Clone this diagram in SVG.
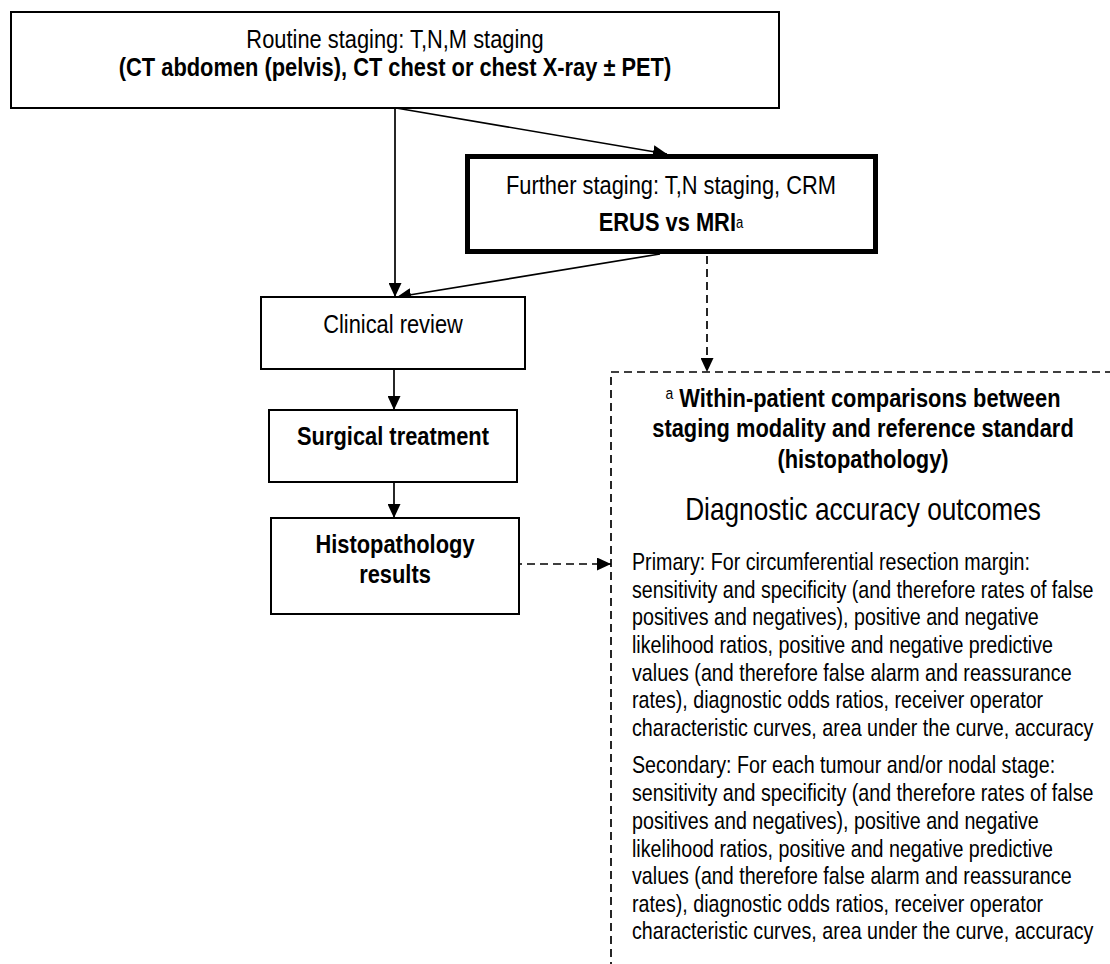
<svg xmlns="http://www.w3.org/2000/svg" width="1110" height="964" viewBox="0 0 1110 964">
<style>
text{font-family:"Liberation Sans",Arial,sans-serif;fill:#000}
.box{fill:#fff;stroke:#000;stroke-width:2}
.thick{fill:#fff;stroke:#000;stroke-width:5}
.t{font-size:26.67px}
.b{font-weight:bold}
.body{font-size:24px}
.c{text-anchor:middle}
.conn{stroke:#000;stroke-width:1.7;fill:none}
.dash{stroke-dasharray:8 5}
</style>
<defs>
<marker id="ah" markerWidth="14" markerHeight="13" refX="14" refY="6.5" orient="auto" markerUnits="userSpaceOnUse">
<path d="M0,0 L14,6.5 L0,13 z" fill="#000"/>
</marker>
</defs>
<rect width="1110" height="964" fill="#fff"/>
<g id="connectors">
<line class="conn" x1="395" y1="108" x2="395" y2="297" marker-end="url(#ah)"/>
<line class="conn" x1="396" y1="108" x2="667" y2="154" marker-end="url(#ah)"/>
<line class="conn" x1="660" y1="254" x2="397" y2="297" marker-end="url(#ah)"/>
<line class="conn" x1="394" y1="369" x2="394" y2="410" marker-end="url(#ah)"/>
<line class="conn" x1="394" y1="482" x2="394" y2="518" marker-end="url(#ah)"/>
<line class="conn dash" x1="707" y1="256" x2="707" y2="372" marker-end="url(#ah)"/>
<line class="conn dash" x1="514" y1="564" x2="611" y2="564" marker-end="url(#ah)"/>
</g>
<g id="routine">
<rect class="box" x="11" y="12" width="768" height="96"/>
<text class="t c" transform="matrix(0.82 0 0 1 395 0)" x="0" y="48">Routine staging: T,N,M staging</text>
<text class="t b c" transform="matrix(0.82 0 0 1 395 0)" x="0" y="76">(CT abdomen (pelvis), CT chest or chest X-ray ± PET)</text>
</g>
<g id="further">
<rect class="thick" x="467.5" y="156.5" width="408" height="95"/>
<text class="t c" transform="matrix(0.82 0 0 1 671 0)" x="0" y="194">Further staging: T,N staging, CRM</text>
<text class="t b c" transform="matrix(0.82 0 0 1 671 0)" x="0" y="231">ERUS vs MRI<tspan font-size="16" font-weight="normal" dy="-3">a</tspan></text>
</g>
<g id="clinical">
<rect class="box" x="261" y="297" width="264" height="72"/>
<text class="t c" transform="matrix(0.82 0 0 1 393 0)" x="0" y="333">Clinical review</text>
</g>
<g id="surgical">
<rect class="box" x="269" y="410" width="248" height="72"/>
<text class="t b c" transform="matrix(0.82 0 0 1 393 0)" x="0" y="445">Surgical treatment</text>
</g>
<g id="histo">
<rect class="box" x="271" y="518" width="248" height="96"/>
<text class="t b c" transform="matrix(0.82 0 0 1 395 0)" x="0" y="553">Histopathology</text>
<text class="t b c" transform="matrix(0.82 0 0 1 395 0)" x="0" y="583">results</text>
</g>
<g id="outcomes">
<path class="conn dash" d="M611,970 V372 H1115"/>
<text class="t b c" transform="matrix(0.82 0 0 1 863 0)" x="0" y="407"><tspan font-size="17" font-weight="normal" dy="-8">a</tspan><tspan dy="8"> Within-patient comparisons between</tspan></text>
<text class="t b c" transform="matrix(0.82 0 0 1 863 0)" x="0" y="437">staging modality and reference standard</text>
<text class="t b c" transform="matrix(0.82 0 0 1 863 0)" x="0" y="468">(histopathology)</text>
<text class="c" transform="matrix(0.82 0 0 1 863 0)" x="0" y="520" font-size="32">Diagnostic accuracy outcomes</text>
<g transform="matrix(0.82 0 0 1 632 0)">
<text class="body" x="0" y="570">Primary: For circumferential resection margin:</text>
<text class="body" x="0" y="598">sensitivity and specificity (and therefore rates of false</text>
<text class="body" x="0" y="625">positives and negatives), positive and negative</text>
<text class="body" x="0" y="653">likelihood ratios, positive and negative predictive</text>
<text class="body" x="0" y="681">values (and therefore false alarm and reassurance</text>
<text class="body" x="0" y="708">rates), diagnostic odds ratios, receiver operator</text>
<text class="body" x="0" y="736">characteristic curves, area under the curve, accuracy</text>
<text class="body" x="0" y="773">Secondary: For each tumour and/or nodal stage:</text>
<text class="body" x="0" y="801">sensitivity and specificity (and therefore rates of false</text>
<text class="body" x="0" y="829">positives and negatives), positive and negative</text>
<text class="body" x="0" y="857">likelihood ratios, positive and negative predictive</text>
<text class="body" x="0" y="884">values (and therefore false alarm and reassurance</text>
<text class="body" x="0" y="912">rates), diagnostic odds ratios, receiver operator</text>
<text class="body" x="0" y="939">characteristic curves, area under the curve, accuracy</text>
</g>
</g>
</svg>
